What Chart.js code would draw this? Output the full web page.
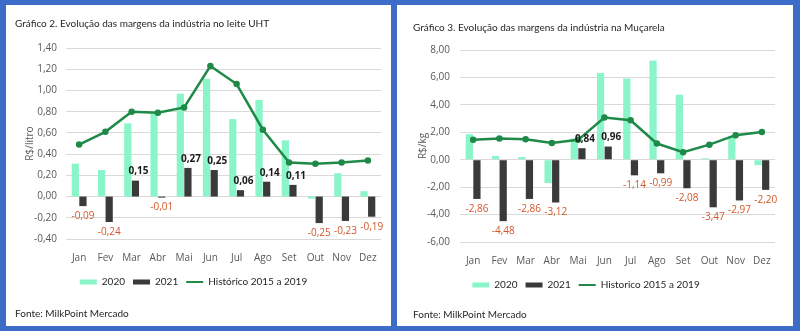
<!DOCTYPE html>
<html>
<head>
<meta charset="utf-8">
<script src="https://cdn.jsdelivr.net/npm/chart.js@4"></script>
<style>
  html, body { margin: 0; padding: 0; }
  body { width: 800px; height: 331px; background: #3d6cc8; position: relative; overflow: hidden; font-family: Lato, sans-serif; }
  .painel { position: absolute; top: 5px; height: 321px; background: #fff; }
  #p1 { left: 6px; width: 385px; }
  #p2 { left: 397px; width: 396px; }
  .titulo { position: absolute; font-size: 10px; color: #262626; white-space: nowrap; }
  .fonte { position: absolute; font-size: 10px; color: #262626; white-space: nowrap; }
  canvas { position: absolute; left: 0; top: 0; }
</style>
</head>
<body>
<div class="painel" id="p1">
  <canvas id="graficoUHT" width="385" height="321"></canvas>
  <div class="titulo" style="left:9px; top:12px;">Gráfico 2. Evolução das margens da indústria no leite UHT</div>
  <div class="fonte" style="left:9px; top:302px;">Fonte: MilkPoint Mercado</div>
</div>
<div class="painel" id="p2">
  <canvas id="graficoMus" width="396" height="321"></canvas>
  <div class="titulo" style="left:16px; top:16px;">Gráfico 3. Evolução das margens da indústria na Muçarela</div>
  <div class="fonte" style="left:16px; top:303px;">Fonte: MilkPoint Mercado</div>
</div>
<script>
// dados
const meses = ['Jan', 'Fev', 'Mar', 'Abr', 'Mai', 'Jun', 'Jul', 'Ago', 'Set', 'Out', 'Nov', 'Dez'];

const uht2020 = [0.31, 0.25, 0.69, 0.78, 0.97, 1.11, 0.73, 0.91, 0.53, -0.02, 0.22, 0.05];
const uht2021 = [-0.09, -0.24, 0.15, -0.01, 0.27, 0.25, 0.06, 0.14, 0.11, -0.25, -0.23, -0.19];
const uhtHistorico = [0.49, 0.61, 0.80, 0.79, 0.84, 1.23, 1.06, 0.63, 0.32, 0.31, 0.32, 0.34];

const mus2020 = [1.86, 0.27, 0.20, -1.70, 1.56, 6.33, 5.92, 7.23, 4.74, 0.10, 1.75, -0.40];
const mus2021 = [-2.86, -4.48, -2.86, -3.12, 0.84, 0.96, -1.14, -0.99, -2.08, -3.47, -2.97, -2.20];
const musHistorico = [1.45, 1.54, 1.50, 1.22, 1.45, 3.08, 2.88, 1.18, 0.54, 1.10, 1.79, 2.02];

const corClara = '#8af5c8';
const corEscura = '#3a3a3a';
const corLinha = '#1f8a48';
const corTexto = '#595959';

function formataNumero(v) {
    if (Math.abs(v) < 1e-9) v = 0;
    return v.toFixed(2).replace('.', ',');
}

// rótulos da série 2021
const rotulos = {
    id: 'rotulos',
    afterDatasetsDraw(chart) {
        const meta = chart.getDatasetMeta(1);
        const valores = chart.data.datasets[1].data;
        const ctx = chart.ctx;
        ctx.save();
        ctx.textAlign = 'center';
        ctx.textBaseline = 'middle';
        meta.data.forEach((barra, i) => {
            const v = valores[i];
            if (v < 0) {
                ctx.font = '10px "Open Sans"';
                ctx.fillStyle = '#d4572a';
                ctx.fillText(formataNumero(v), barra.x, barra.y + 10);
            } else {
                ctx.font = 'bold 10px "Open Sans"';
                ctx.fillStyle = '#1a1a1a';
                ctx.fillText(formataNumero(v), barra.x + 3, barra.y - 9);
            }
        });
        ctx.restore();
    }
};

function montaGrafico(id, serie2020, serie2021, historico, nomeHist, cfg) {
    const ctx = document.getElementById(id).getContext('2d');
    return new Chart(ctx, {
        data: {
            labels: meses,
            datasets: [
                { type: 'bar', label: '2020', data: serie2020, backgroundColor: corClara, order: 1, barPercentage: 0.95, categoryPercentage: 0.58 },
                { type: 'bar', label: '2021', data: serie2021, backgroundColor: corEscura, order: 1, barPercentage: 0.95, categoryPercentage: 0.58 },
                { type: 'line', label: nomeHist, data: historico, borderColor: corLinha, backgroundColor: corLinha, borderWidth: 2.5, pointRadius: 2, pointBackgroundColor: corLinha, tension: 0, order: 0 }
            ]
        },
        options: {
            responsive: false,
            animation: false,
            layout: { padding: cfg.padding },
            plugins: {
                tooltip: { enabled: false },
                legend: {
                    position: 'bottom',
                    labels: {
                        usePointStyle: true,
                        pointStyleWidth: 17,
                        boxHeight: 5,
                        padding: 8,
                        color: '#262626',
                        font: { family: 'Lato', size: 10 },
                        sort: (a, b) => a.datasetIndex - b.datasetIndex,
                        generateLabels(chart) {
                            const itens = Chart.defaults.plugins.legend.labels.generateLabels(chart);
                            itens.forEach(item => {
                                if (item.datasetIndex === 2) {
                                    item.pointStyle = 'line';
                                    item.lineWidth = 2;
                                } else {
                                    item.pointStyle = 'rect';
                                }
                            });
                            return itens;
                        }
                    }
                }
            },
            scales: {
                x: {
                    grid: { display: false },
                    border: { display: false },
                    ticks: { color: corTexto, padding: 5, font: { family: 'Open Sans', size: 10 } }
                },
                y: {
                    min: cfg.min,
                    max: cfg.max,
                    afterFit(scale) { scale.width = cfg.largura; },
                    grid: { color: '#d9d9d9', drawTicks: false },
                    border: { display: false },
                    ticks: {
                        stepSize: cfg.passo,
                        padding: cfg.padTicks,
                        color: corTexto,
                        font: { family: 'Open Sans', size: 10 },
                        callback: v => formataNumero(v)
                    },
                    title: {
                        display: true,
                        text: cfg.tituloY,
                        color: corTexto,
                        font: { family: 'Open Sans', size: 10 },
                        padding: { top: cfg.padTitulo, bottom: 0 }
                    }
                }
            }
        },
        plugins: [rotulos]
    });
}

montaGrafico('graficoUHT', uht2020, uht2021, uhtHistorico, 'Histórico 2015 a 2019', {
    min: -0.4, max: 1.4, passo: 0.2, tituloY: 'R$/litro',
    largura: 60, padTicks: 9, padTitulo: 18,
    padding: { left: 0, right: 10, top: 43, bottom: 29 }
});

montaGrafico('graficoMus', mus2020, mus2021, musHistorico, 'Historico 2015 a 2019', {
    min: -6, max: 8, passo: 2, tituloY: 'R$/kg',
    largura: 63, padTicks: 10, padTitulo: 20,
    padding: { left: 0, right: 18, top: 45, bottom: 26 }
});
</script>
</body>
</html>
